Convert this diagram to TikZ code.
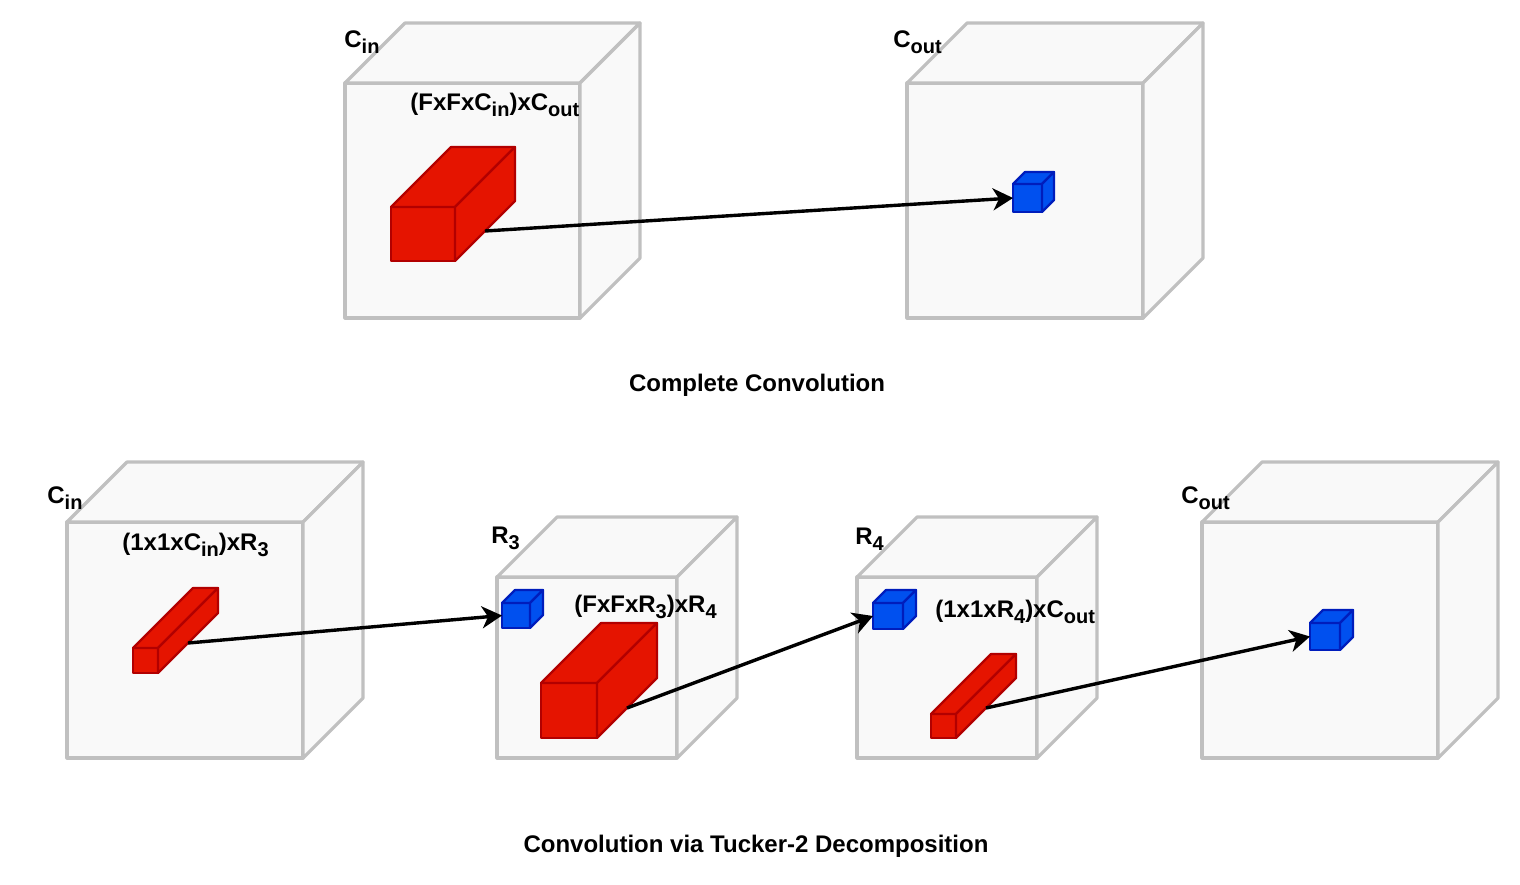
\documentclass[tikz,border=0pt]{standalone}
\usepackage{fontspec}
\setmainfont{Liberation Sans}
\usepackage{xcolor}
\usepackage{tikz}
\usetikzlibrary{arrows.meta}
\definecolor{vollgray}{RGB}{192,192,192}
\definecolor{volfill}{RGB}{249,249,249}
\definecolor{kernred}{RGB}{229,20,0}
\definecolor{kernline}{RGB}{178,0,0}
\definecolor{cellblue}{RGB}{0,80,239}
\definecolor{cellline}{RGB}{0,29,188}
\newcommand{\sbs}[1]{\raisebox{-3pt}{\fontsize{10}{12}\selectfont #1}}
% style, name, x, y (front top left), width, height, depth
\newcommand{\drawcuboid}[7]{%
  \begin{scope}[shift={(#3,#4)}]
    \filldraw[#1] (0,0) rectangle (#5,#6);
    \filldraw[#1] (0,0) -- (#7,-#7) -- (#5+#7,-#7) -- (#5,0) -- cycle;
    \filldraw[#1] (#5,0) -- (#5+#7,-#7) -- (#5+#7,#6-#7) -- (#5,#6) -- cycle;
    \coordinate (#2-w) at (0,#6/2);
    \coordinate (#2-e) at (#5+#7/2,#6-#7/2);
  \end{scope}}

\begin{document}
\begin{tikzpicture}[x=0.5pt,y=-0.5pt,
  volume/.style={draw=vollgray, fill=volfill, line width=1.6pt, line join=round},
  kernel/.style={draw=kernline, fill=kernred, line width=1.1pt, line join=round},
  cell/.style={draw=cellline, fill=cellblue, line width=1.1pt, line join=round},
  lbl/.style={inner sep=0pt, font=\fontsize{12}{14}\selectfont\bfseries},
  conn/.style={line width=1.7pt, -{Stealth[length=10pt,width=11pt,inset=3pt]}}]
\useasboundingbox (0,0) rectangle (1520,884);
% complete convolution
\drawcuboid{volume}{inA}{345}{83}{235}{235}{60}
\drawcuboid{volume}{outA}{907}{83}{236}{235}{60}
\drawcuboid{kernel}{kerA}{391}{207}{64}{54}{60}
\drawcuboid{cell}{celA}{1013}{184}{29}{28}{12}
\node[lbl, anchor=base west] (cinA) at (344,47) {C\sbs{in}};
\node[lbl, anchor=base west] (coutA) at (893,47) {C\sbs{out}};
\node[lbl, anchor=base west] (kerAlbl) at (410,110) {(FxFxC\sbs{in})xC\sbs{out}};
\node[lbl, anchor=base] (titleA) at (757,391) {Complete Convolution};
\draw[conn] (kerA-e) -- (celA-w);
% tucker-2 decomposition
\drawcuboid{volume}{inB}{67}{522}{236}{236}{60}
\drawcuboid{volume}{midB}{497}{577}{180}{181}{60}
\drawcuboid{volume}{midC}{857}{577}{180}{181}{60}
\drawcuboid{volume}{outB}{1202}{522}{236}{236}{60}
\drawcuboid{kernel}{kerB}{133}{648}{25}{25}{60}
\drawcuboid{kernel}{kerC}{541}{683}{56}{55}{60}
\drawcuboid{kernel}{kerD}{931}{714}{25}{24}{60}
\drawcuboid{cell}{celB}{502}{603}{28}{25}{13}
\drawcuboid{cell}{celC}{873}{603}{30}{26}{13}
\drawcuboid{cell}{celD}{1310}{623}{30}{27}{13}
\node[lbl, anchor=base west] (cinB) at (47,503) {C\sbs{in}};
\node[lbl, anchor=base west] (kerBlbl) at (122,550) {(1x1xC\sbs{in})xR\sbs{3}};
\node[lbl, anchor=base west] (rthree) at (491,543) {R\sbs{3}};
\node[lbl, anchor=base west] (kerClbl) at (574,612) {(FxFxR\sbs{3})xR\sbs{4}};
\node[lbl, anchor=base west] (rfour) at (855,544) {R\sbs{4}};
\node[lbl, anchor=base west] (kerDlbl) at (935,617) {(1x1xR\sbs{4})xC\sbs{out}};
\node[lbl, anchor=base west] (coutB) at (1181,503) {C\sbs{out}};
\node[lbl, anchor=base] (titleB) at (756,852) {Convolution via Tucker-2 Decomposition};
\draw[conn] (kerB-e) -- (celB-w);
\draw[conn] (kerC-e) -- (celC-w);
\draw[conn] (kerD-e) -- (celD-w);
\end{tikzpicture}
\end{document}
